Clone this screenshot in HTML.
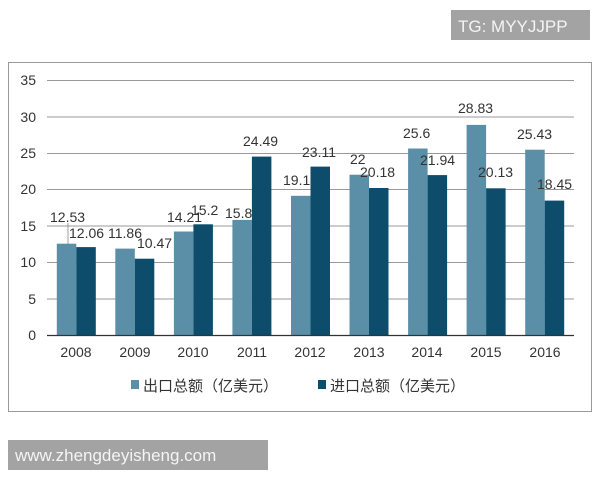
<!DOCTYPE html>
<html><head><meta charset="utf-8"><style>
body{margin:0;background:#fff;width:600px;height:480px;overflow:hidden}
svg{display:block}
text{font-family:"Liberation Sans","Noto Sans CJK SC",sans-serif;fill:#333}
</style></head><body>
<svg width="600" height="480" xmlns="http://www.w3.org/2000/svg">
<rect x="451" y="10" width="139" height="30" fill="#a3a3a3"/>
<text x="458" y="32" font-size="17" style="fill:#f4f4f4">TG: MYYJJPP</text>
<rect x="8.5" y="62.5" width="583" height="349" fill="#fff" stroke="#999" stroke-width="1"/>
<g stroke="#999" stroke-width="1">
<line x1="47" x2="574" y1="80.5" y2="80.5"/>
<line x1="47" x2="574" y1="117" y2="117"/>
<line x1="47" x2="574" y1="153.5" y2="153.5"/>
<line x1="47" x2="574" y1="189.5" y2="189.5"/>
<line x1="47" x2="574" y1="226" y2="226"/>
<line x1="47" x2="574" y1="262.5" y2="262.5"/>
<line x1="47" x2="574" y1="299" y2="299"/>
</g>
<g font-size="14" text-anchor="end">
<text x="36" y="85">35</text><text x="36" y="122">30</text><text x="36" y="158">25</text>
<text x="36" y="194">20</text><text x="36" y="231">15</text><text x="36" y="267">10</text>
<text x="36" y="304">5</text><text x="36" y="340">0</text>
</g>
<g fill="#5b8fa8">
<rect x="56.8" y="243.7" width="19.5" height="91.3"/>
<rect x="115.3" y="248.6" width="19.5" height="86.4"/>
<rect x="173.9" y="231.5" width="19.5" height="103.5"/>
<rect x="232.4" y="219.9" width="19.5" height="115.1"/>
<rect x="291" y="195.8" width="19.5" height="139.2"/>
<rect x="349.5" y="174.7" width="19.5" height="160.3"/>
<rect x="408.1" y="148.5" width="19.5" height="186.5"/>
<rect x="466.6" y="124.9" width="19.5" height="210.1"/>
<rect x="525.2" y="149.7" width="19.5" height="185.3"/>
</g>
<g fill="#0d4d6b">
<rect x="76.3" y="247.1" width="19.5" height="87.9"/>
<rect x="134.8" y="258.7" width="19.5" height="76.3"/>
<rect x="193.4" y="224.3" width="19.5" height="110.7"/>
<rect x="251.9" y="156.6" width="19.5" height="178.4"/>
<rect x="310.5" y="166.6" width="19.5" height="168.4"/>
<rect x="369" y="188" width="19.5" height="147"/>
<rect x="427.6" y="175.1" width="19.5" height="159.9"/>
<rect x="486.1" y="188.3" width="19.5" height="146.7"/>
<rect x="544.7" y="200.6" width="19.5" height="134.4"/>
</g>
<line x1="47" x2="574" y1="335.5" y2="335.5" stroke="#333" stroke-width="1.2"/>
<line x1="68" x2="68" y1="223" y2="244" stroke="#888" stroke-width="0.8"/>
<g font-size="14" text-anchor="middle">
<text x="76" y="357">2008</text><text x="135" y="357">2009</text><text x="193" y="357">2010</text>
<text x="252" y="357">2011</text><text x="310" y="357">2012</text><text x="369" y="357">2013</text>
<text x="427" y="357">2014</text><text x="486" y="357">2015</text><text x="545" y="357">2016</text>
</g>
<g font-size="14">
<text x="50" y="222">12.53</text><text x="69" y="238">12.06</text>
<text x="108" y="238">11.86</text><text x="137" y="248">10.47</text>
<text x="167" y="222">14.21</text><text x="191" y="215">15.2</text>
<text x="225" y="218">15.8</text><text x="243" y="146">24.49</text>
<text x="283" y="185">19.1</text><text x="302" y="157">23.11</text>
<text x="350" y="164">22</text><text x="360" y="177">20.18</text>
<text x="403" y="138">25.6</text><text x="420" y="165">21.94</text>
<text x="458" y="113">28.83</text><text x="478" y="177">20.13</text>
<text x="517" y="139">25.43</text><text x="537" y="189">18.45</text>
</g>
<rect x="131" y="380" width="8" height="9" fill="#5b8fa8"/>
<text x="143" y="391" font-size="15">出口总额（亿美元）</text>
<rect x="318" y="380" width="8" height="9" fill="#0d4d6b"/>
<text x="330" y="391" font-size="15">进口总额（亿美元）</text>
<rect x="8" y="440" width="260" height="30" fill="#a3a3a3"/>
<text x="15" y="461" font-size="17" style="fill:#f4f4f4">www.zhengdeyisheng.com</text>
</svg>
</body></html>
